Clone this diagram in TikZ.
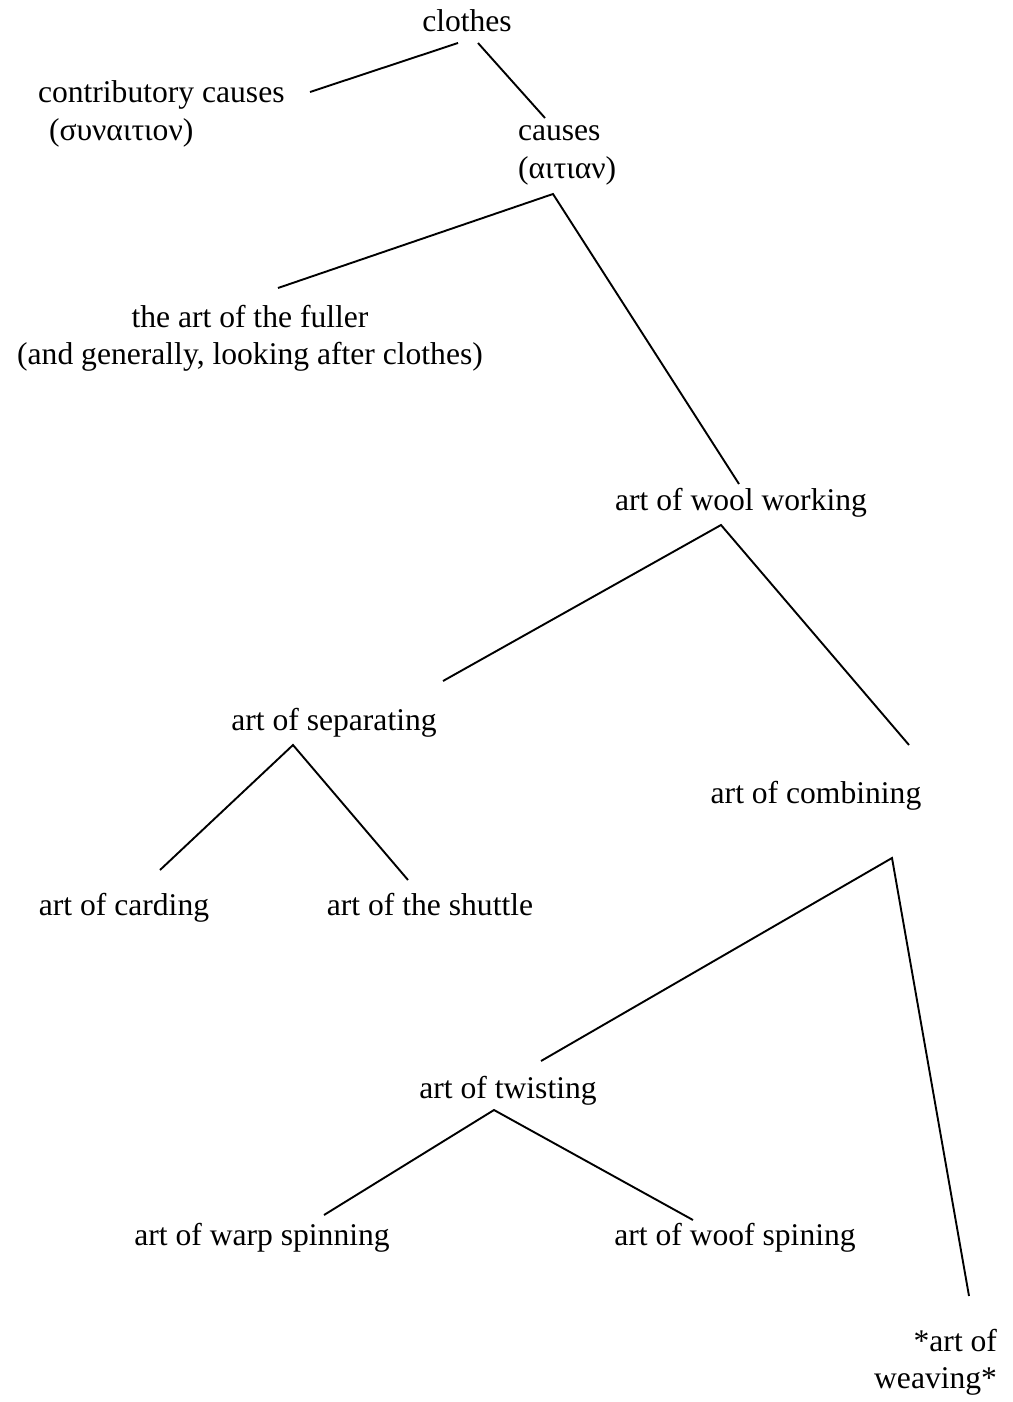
\documentclass[tikz,border=0pt]{standalone}
\usepackage{fontspec}
\setmainfont{Liberation Serif}
\begin{document}
\begin{tikzpicture}[x=1pt,y=-1pt,
  lbl/.style={inner sep=0pt,outer sep=0pt,font=\fontsize{31.6}{37}\selectfont},
  edge/.style={line width=1.9pt,line cap=butt,line join=miter}]
\useasboundingbox (0,0) rectangle (1012,1402);
% nodes (multi-line nodes: base anchor = last line baseline)
\node[lbl,anchor=base] (clothes) at (467,32) {clothes};
\node[lbl,anchor=base west,align=left] (contrib) at (38,140) {contributory causes\\\hspace*{11pt}(συναιτιον)};
\node[lbl,anchor=base west,align=left] (causes) at (518,178) {causes\\(αιτιαν)};
\node[lbl,anchor=base,align=center] (fuller) at (250,364) {the art of the fuller\\(and generally, looking after clothes)};
\node[lbl,anchor=base] (wool) at (741,510) {art of wool working};
\node[lbl,anchor=base] (separating) at (334,730) {art of separating};
\node[lbl,anchor=base] (combining) at (816,803) {art of combining};
\node[lbl,anchor=base] (carding) at (124,915) {art of carding};
\node[lbl,anchor=base] (shuttle) at (430,915) {art of the shuttle};
\node[lbl,anchor=base] (twisting) at (508,1098) {art of twisting};
\node[lbl,anchor=base] (warp) at (262,1245) {art of warp spinning};
\node[lbl,anchor=base] (woof) at (735,1245) {art of woof spining};
\node[lbl,anchor=base east,align=right] (weaving) at (997,1388) {*art of\\weaving*};
% connector end points
\coordinate (clothes-a) at (458,43);
\coordinate (clothes-b) at (478,43);
\coordinate (contrib-e) at (310,92);
\coordinate (causes-in) at (545,118);
\coordinate (causes-out) at (553,194);
\coordinate (fuller-e) at (278,288);
\coordinate (wool-in) at (739,484);
\coordinate (wool-out) at (721,525);
\coordinate (separating-in) at (443,681);
\coordinate (separating-out) at (293,745);
\coordinate (combining-in) at (909,745);
\coordinate (combining-out) at (892,858);
\coordinate (carding-e) at (160,870);
\coordinate (shuttle-e) at (408,880);
\coordinate (twisting-in) at (541,1061);
\coordinate (twisting-out) at (494,1110);
\coordinate (warp-e) at (324,1215);
\coordinate (woof-e) at (693,1220);
\coordinate (weaving-e) at (969,1296);
% connectors
\draw[edge] (contrib-e) -- (clothes-a);
\draw[edge] (clothes-b) -- (causes-in);
\draw[edge] (fuller-e) -- (causes-out) -- (wool-in);
\draw[edge] (separating-in) -- (wool-out) -- (combining-in);
\draw[edge] (carding-e) -- (separating-out) -- (shuttle-e);
\draw[edge] (twisting-in) -- (combining-out) -- (weaving-e);
\draw[edge] (warp-e) -- (twisting-out) -- (woof-e);
\end{tikzpicture}
\end{document}
